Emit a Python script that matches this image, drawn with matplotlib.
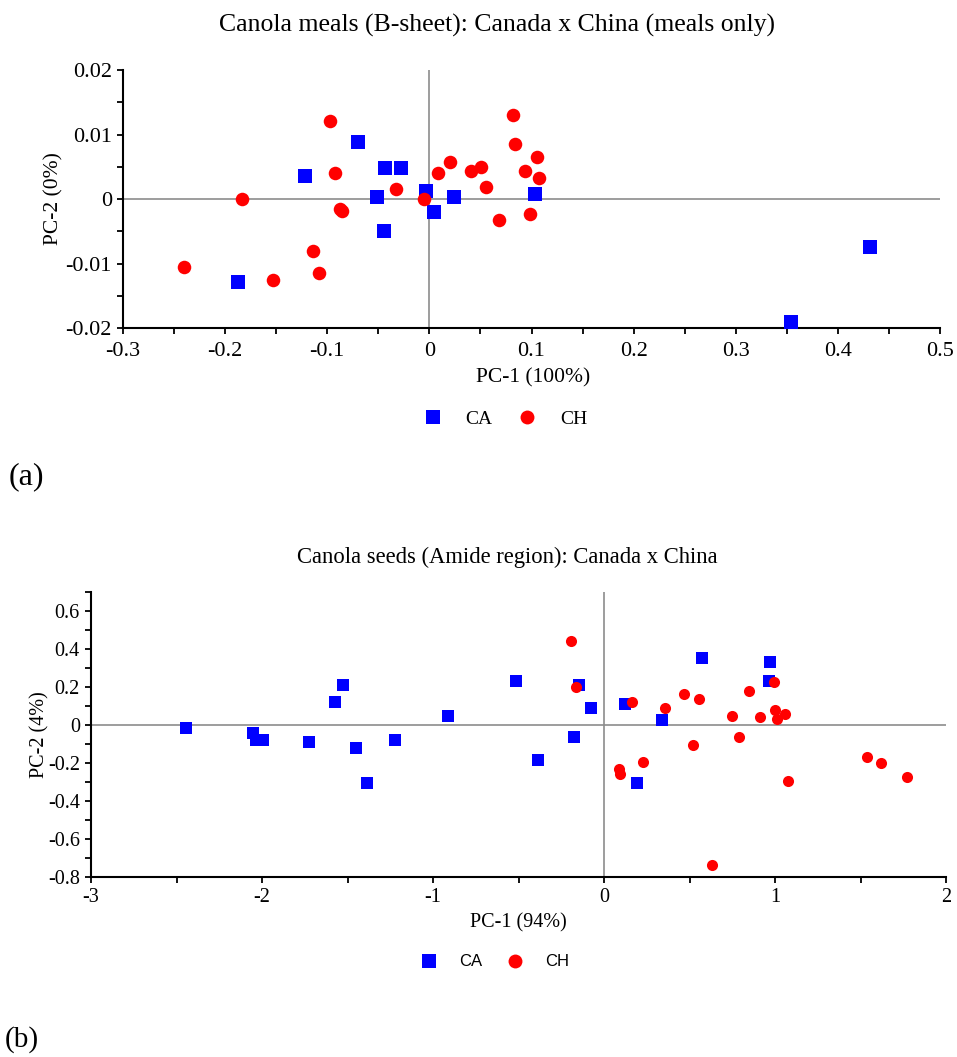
import matplotlib
matplotlib.use("Agg")
import matplotlib.pyplot as plt
from matplotlib.lines import Line2D
from matplotlib.ticker import MultipleLocator, FuncFormatter

plt.rcParams["font.family"] = "Liberation Serif"
plt.rcParams["axes.unicode_minus"] = False

# (a) canola meals, B-sheet
meals_ca_pc1 = [-0.070, -0.122, -0.043, -0.028, -0.051, -0.003, 0.024, 0.005, -0.044, 0.103, -0.187, 0.431, 0.354]
meals_ca_pc2 = [0.0088, 0.0035, 0.0048, 0.0048, 0.0003, 0.0013, 0.0003, -0.0020, -0.0050, 0.0008, -0.0128, -0.0075, -0.0191]
meals_ch_pc1 = [-0.097, 0.082, 0.084, 0.105, 0.094, 0.107, 0.020, 0.008, 0.041, 0.051, 0.055, -0.033,
                -0.092, -0.183, -0.088, -0.086, -0.005, 0.068, 0.099, -0.114, -0.108, -0.153, -0.240]
meals_ch_pc2 = [0.0121, 0.0131, 0.0086, 0.0065, 0.0043, 0.0033, 0.0058, 0.0040, 0.0043, 0.0050, 0.0018, 0.0016,
                0.0040, 0.0000, -0.0015, -0.0018, 0.0000, -0.0033, -0.0023, -0.0081, -0.0115, -0.0126, -0.0105]

# (b) canola seeds, amide region
seeds_ca_pc1 = [-2.444, -2.051, -2.033, -1.994, -1.725, -1.573, -1.528, -1.448, -1.386, -1.224, -0.910,
                -0.515, -0.388, -0.173, -0.148, -0.076, 0.121, 0.337, 0.571, 0.973, 0.965, 0.195]
seeds_ca_pc2 = [-0.016, -0.040, -0.080, -0.080, -0.089, 0.120, 0.209, -0.120, -0.305, -0.080, 0.049,
                0.233, -0.185, -0.064, 0.209, 0.089, 0.111, 0.026, 0.352, 0.329, 0.233, -0.305]
seeds_ch_pc1 = [-0.193, -0.166, 0.166, 0.357, 0.466, 0.554, 0.850, 0.992, 1.002, 1.010, 1.057, 0.749,
                0.912, 0.788, 0.519, 0.230, 0.086, 0.096, 1.074, 1.540, 1.622, 1.774, 0.634]
seeds_ch_pc2 = [0.441, 0.200, 0.122, 0.089, 0.162, 0.138, 0.178, 0.225, 0.080, 0.031, 0.057, 0.049,
                0.042, -0.063, -0.103, -0.193, -0.230, -0.256, -0.296, -0.167, -0.200, -0.272, -0.737]

BLUE = "#0000FF"
RED = "#FF0000"
GREY = "#8c8c8c"

fmt = FuncFormatter(lambda v, p: f"{round(v, 6) + 0.0:g}")

fig = plt.figure(figsize=(9.57, 10.57), dpi=100)
W, H = 957, 1057


def px_axes(l, t, r, b):
    return fig.add_axes([l / W, 1 - b / H, (r - l) / W, (b - t) / H])


def style(ax, tick_size, xpad):
    for s in ["top", "right"]:
        ax.spines[s].set_visible(False)
    for s in ["left", "bottom"]:
        ax.spines[s].set_linewidth(1.5)
    ax.axhline(0, color=GREY, lw=1.2, zorder=1)
    ax.axvline(0, color=GREY, lw=1.2, zorder=1)
    ax.tick_params(which="both", direction="out", length=4, width=1.3, labelsize=tick_size)
    ax.tick_params(axis="x", pad=xpad)
    ax.tick_params(axis="y", pad=4)
    ax.xaxis.set_major_formatter(fmt)
    ax.yaxis.set_major_formatter(fmt)


# ---- (a)
ax1 = px_axes(123, 70, 940, 328)
ax1.scatter(meals_ca_pc1, meals_ca_pc2, marker="s", s=100, color=BLUE, lw=0, zorder=3)
ax1.scatter(meals_ch_pc1, meals_ch_pc2, marker="o", s=95, color=RED, lw=0, zorder=4)
ax1.set_xlim(-0.3, 0.5)
ax1.set_ylim(-0.02, 0.02)
ax1.xaxis.set_major_locator(MultipleLocator(0.1))
ax1.xaxis.set_minor_locator(MultipleLocator(0.05))
ax1.yaxis.set_major_locator(MultipleLocator(0.01))
ax1.yaxis.set_minor_locator(MultipleLocator(0.005))
style(ax1, 16, 6)
ax1.set_xlabel("PC-1 (100%)", fontsize=15.5)
ax1.xaxis.set_label_coords((533 - 123) / 817, (328 - 378) / 258)
ax1.xaxis.label.set_va("center")
ax1.set_ylabel("PC-2 (0%)", fontsize=15.5)
ax1.yaxis.set_label_coords((54 - 123) / 817, 0.5)
ax1.yaxis.label.set_va("center")

fig.text(497 / W, 1 - 25 / H, "Canola meals (B-sheet): Canada x China (meals only)",
         ha="center", va="center", fontsize=18.5)

h_a = [Line2D([], [], marker="s", ls="", color=BLUE, markersize=10, mew=0),
       Line2D([], [], marker="o", ls="", color=RED, markersize=10, mew=0)]
fig.legend(h_a, ["CA", "CH"], loc="center", bbox_to_anchor=(505 / W, 1 - 419 / H), ncol=2,
           frameon=False, fontsize=14, handlelength=1.0, handletextpad=1.2, columnspacing=1.25)

fig.text(9 / W, 1 - 477 / H, "(a)", ha="left", va="center", fontsize=23)

# ---- (b)
ax2 = px_axes(91, 592, 946, 877)
ax2.scatter(seeds_ca_pc1, seeds_ca_pc2, marker="s", s=64, color=BLUE, lw=0, zorder=3)
ax2.scatter(seeds_ch_pc1, seeds_ch_pc2, marker="o", s=64, color=RED, lw=0, zorder=4)
ax2.set_xlim(-3, 2)
ax2.set_ylim(-0.8, 0.7)
ax2.xaxis.set_major_locator(MultipleLocator(1))
ax2.xaxis.set_minor_locator(MultipleLocator(0.5))
ax2.yaxis.set_major_locator(MultipleLocator(0.2))
ax2.yaxis.set_minor_locator(MultipleLocator(0.1))
style(ax2, 14.5, 4)
ax2.set_yticks([-0.8, -0.6, -0.4, -0.2, 0, 0.2, 0.4, 0.6])
ax2.set_xlabel("PC-1 (94%)", fontsize=14.5)
ax2.xaxis.set_label_coords((518 - 91) / 855, (877 - 923) / 285)
ax2.xaxis.label.set_va("center")
ax2.set_ylabel("PC-2 (4%)", fontsize=14.5)
ax2.yaxis.set_label_coords((40 - 91) / 855, 0.5)
ax2.yaxis.label.set_va("center")

fig.text(507 / W, 1 - 557 / H, "Canola seeds (Amide region): Canada x China",
         ha="center", va="center", fontsize=16.3)

h_b = [Line2D([], [], marker="s", ls="", color=BLUE, markersize=10, mew=0),
       Line2D([], [], marker="o", ls="", color=RED, markersize=10, mew=0)]
fig.legend(h_b, ["CA", "CH"], loc="center", bbox_to_anchor=(495 / W, 1 - 962 / H), ncol=2,
           frameon=False, prop={"family": "Liberation Sans", "size": 12},
           handlelength=1.0, handletextpad=1.3, columnspacing=1.5)

fig.text(5 / W, 1 - 1040 / H, "(b)", ha="left", va="center", fontsize=21)

fig.savefig("out.png", dpi=100)
